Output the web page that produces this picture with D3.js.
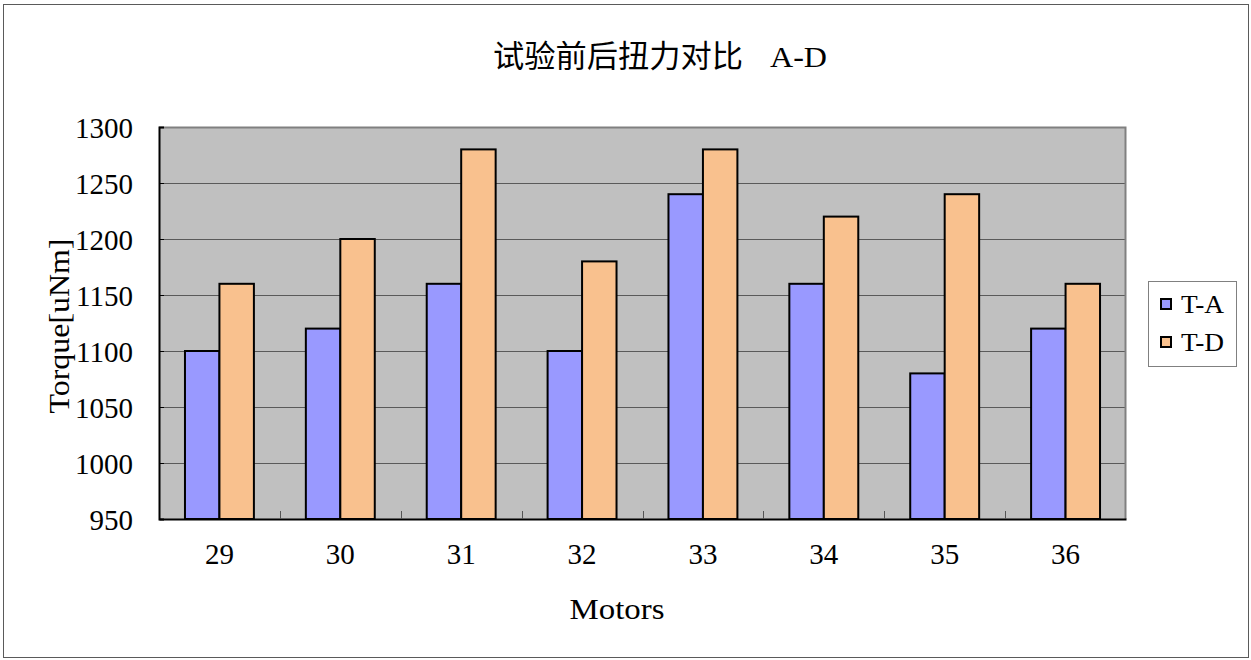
<!DOCTYPE html>
<html><head><meta charset="utf-8">
<script src="https://cdn.jsdelivr.net/npm/d3@7"></script>
<style>body{margin:0;background:#fff}svg{display:block}</style>
</head><body>
<script>
const categories = ["29","30","31","32","33","34","35","36"];
const seriesNames = ["T-A","T-D"];
const valuesA = [1100,1120,1160,1100,1240,1160,1080,1120];
const valuesD = [1160,1200,1280,1180,1280,1220,1240,1160];
const yTicks = [950,1000,1050,1100,1150,1200,1250,1300];
const colors = ["#9999FF","#F9C18E"];
const titleCn = "试验前后扭力对比";
const titleLatin = "A-D";
const xTitle = "Motors";
const yTitle = "Torque[uNm]";

const W = 1251, H = 660;
const latin = "'Liberation Serif','DejaVu Serif',serif";
const cjk = "'Noto Sans CJK SC','Liberation Serif',serif";
const plot = {x0:159, x1:1126, y0:127, y1:519};

const svg = d3.select("body").append("svg").attr("width",W).attr("height",H);
svg.append("rect").attr("x",3.5).attr("y",4.5).attr("width",1245).attr("height",653)
  .attr("fill","#fff").attr("stroke","#5a5a5a").attr("stroke-width",1);

const x = d3.scaleBand().domain(categories).range([plot.x0,plot.x1]).paddingInner(0).paddingOuter(0);
const y = d3.scaleLinear().domain([950,1300]).range([plot.y1,plot.y0]);
const groupFrac = 69/121;
const x1 = d3.scaleBand().domain(seriesNames)
  .range([x.bandwidth()*(1-groupFrac)/2, x.bandwidth()*(1+groupFrac)/2]);

// plot background
svg.append("rect").attr("x",plot.x0).attr("y",plot.y0).attr("width",plot.x1-plot.x0).attr("height",plot.y1-plot.y0)
  .attr("fill","#C0C0C0");
// gridlines
svg.append("g").selectAll("line").data(yTicks.slice(1)).join("line")
  .attr("x1",plot.x0).attr("x2",plot.x1).attr("y1",d=>Math.round(y(d))+0.5).attr("y2",d=>Math.round(y(d))+0.5)
  .attr("stroke","#5a5a5a").attr("stroke-width",1);
// frame top/right
svg.append("path").attr("d",`M${plot.x0},${plot.y0+0.5}H${plot.x1-0.5}V${plot.y1}`)
  .attr("fill","none").attr("stroke","#808080").attr("stroke-width",2);

// bars
const data = categories.map((c,i)=>({c, vals:[valuesA[i],valuesD[i]]}));
const g = svg.append("g");
data.forEach(d=>{
  d.vals.forEach((v,j)=>{
    g.append("rect")
      .attr("x",x(d.c)+x1(seriesNames[j]))
      .attr("y",y(v))
      .attr("width",x1.bandwidth())
      .attr("height",y(950)-y(v))
      .attr("fill",colors[j]).attr("stroke","#000").attr("stroke-width",2);
  });
});

// axes
const yAxis = d3.axisLeft(y).tickValues(yTicks).tickSize(-5).tickPadding(26).tickFormat(d3.format("d"));
const ya = svg.append("g").attr("transform",`translate(${plot.x0},0)`).call(yAxis);
ya.select(".domain").attr("stroke","#000").attr("stroke-width",2);
ya.selectAll(".tick line").attr("stroke","#000");
ya.selectAll("text").attr("font-family",latin).attr("font-size",29).attr("fill","#000").attr("dy","0.36em");

const xAxis = d3.axisBottom(x).tickSize(0).tickPadding(24);
const xa = svg.append("g").attr("transform",`translate(0,${plot.y1})`).call(xAxis);
xa.select(".domain").attr("stroke","#000").attr("stroke-width",2);
xa.selectAll("text").attr("font-family",latin).attr("font-size",29).attr("fill","#000");
// category boundary ticks (inside)
svg.append("g").selectAll("line").data(categories.slice(1)).join("line")
  .attr("x1",d=>Math.round(x(d))+0.5).attr("x2",d=>Math.round(x(d))+0.5)
  .attr("y1",plot.y1).attr("y2",plot.y1-8).attr("stroke","#555");

// titles
svg.append("text").attr("x",493).attr("y",67)
  .attr("font-family",cjk).attr("font-size",31).attr("fill","#000")
  .attr("textLength",250).attr("lengthAdjust","spacingAndGlyphs").text(titleCn);
svg.append("text").attr("x",770).attr("y",67)
  .attr("font-family",latin).attr("font-size",30).attr("fill","#000")
  .attr("textLength",57).attr("lengthAdjust","spacingAndGlyphs").text(titleLatin);
svg.append("text").attr("x",617).attr("y",619).attr("text-anchor","middle")
  .attr("font-family",latin).attr("font-size",29).attr("fill","#000")
  .attr("textLength",95).attr("lengthAdjust","spacingAndGlyphs").text(xTitle);
svg.append("text").attr("transform","translate(69,326) rotate(-90)").attr("text-anchor","middle")
  .attr("font-family",latin).attr("font-size",29).attr("fill","#000")
  .attr("textLength",175).attr("lengthAdjust","spacingAndGlyphs").text(yTitle);

// legend
const lg = svg.append("g");
lg.append("rect").attr("x",1148.5).attr("y",281.5).attr("width",88).attr("height",85)
  .attr("fill","#fff").attr("stroke","#808080");
seriesNames.forEach((s,i)=>{
  const yy = 304 + i*38;
  lg.append("rect").attr("x",1161).attr("y",yy-5).attr("width",10).attr("height",10)
    .attr("fill",colors[i]).attr("stroke","#000").attr("stroke-width",2);
  lg.append("text").attr("x",1181).attr("y",yy).attr("dy","0.36em")
    .attr("font-family",latin).attr("font-size",26).attr("fill","#000")
    .attr("textLength",43).attr("lengthAdjust","spacingAndGlyphs").text(s);
});
</script>
</body></html>
